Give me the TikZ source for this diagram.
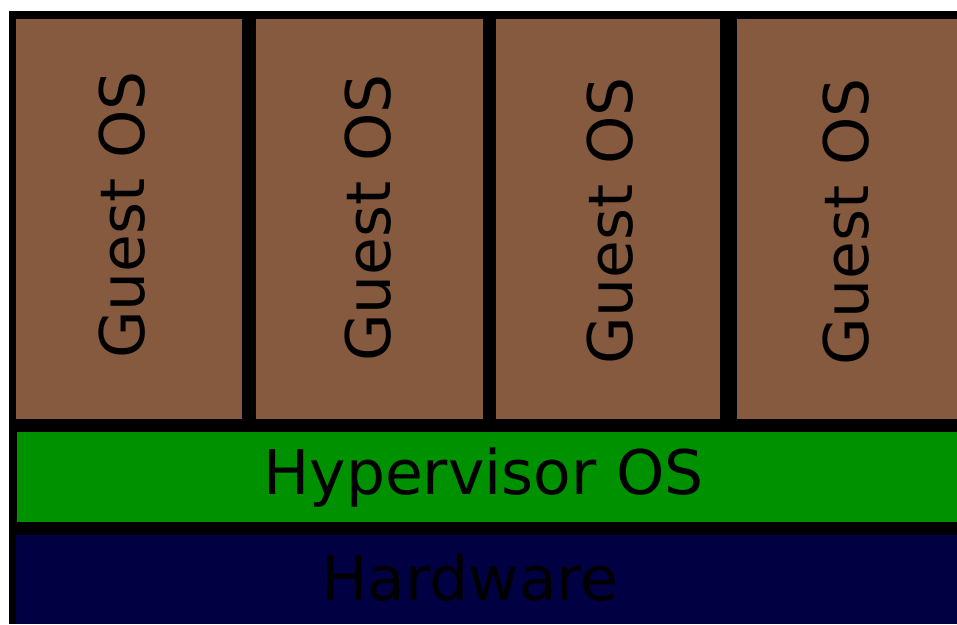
\documentclass[tikz,border=0pt]{standalone}
\usepackage{fontspec}
\setmainfont{DejaVu Sans}
\definecolor{guestbrown}{RGB}{133,90,63}
\definecolor{hypgreen}{RGB}{0,145,0}
\definecolor{hwnavy}{RGB}{0,0,66}
\begin{document}
\begin{tikzpicture}[x=1pt,y=-1pt,
  layer/.style={inner sep=0pt,outer sep=0pt},
  lbl/.style={font=\fontsize{61.5}{61.5}\selectfont,text=black,inner sep=0pt}]
\useasboundingbox (0,0) rectangle (957,624);
\fill[white] (0,0) rectangle (957,624);
\fill[black] (9,11) rectangle (957,624);
% guest boxes
\fill[guestbrown] (16,19) rectangle (242,419);
\fill[guestbrown] (256,19) rectangle (483,419);
\fill[guestbrown] (496,19) rectangle (720,419);
\fill[guestbrown] (737,19) rectangle (957,419);
% hypervisor
\fill[hypgreen] (17,432) rectangle (957,522);
% hardware
\fill[hwnavy] (16,535) rectangle (957,624);
% labels
\node[lbl,rotate=90] (g1) at (122.5,215) {Guest OS};
\node[lbl,rotate=90] (g2) at (368.5,218) {Guest OS};
\node[lbl,rotate=90] (g3) at (610.5,221) {Guest OS};
\node[lbl,rotate=90] (g4) at (846.5,222) {Guest OS};
\node[lbl] (hyp) at (483.5,478) {Hypervisor OS};
\node[lbl] (hw) at (470,578) {Hardware};
\end{tikzpicture}
\end{document}
